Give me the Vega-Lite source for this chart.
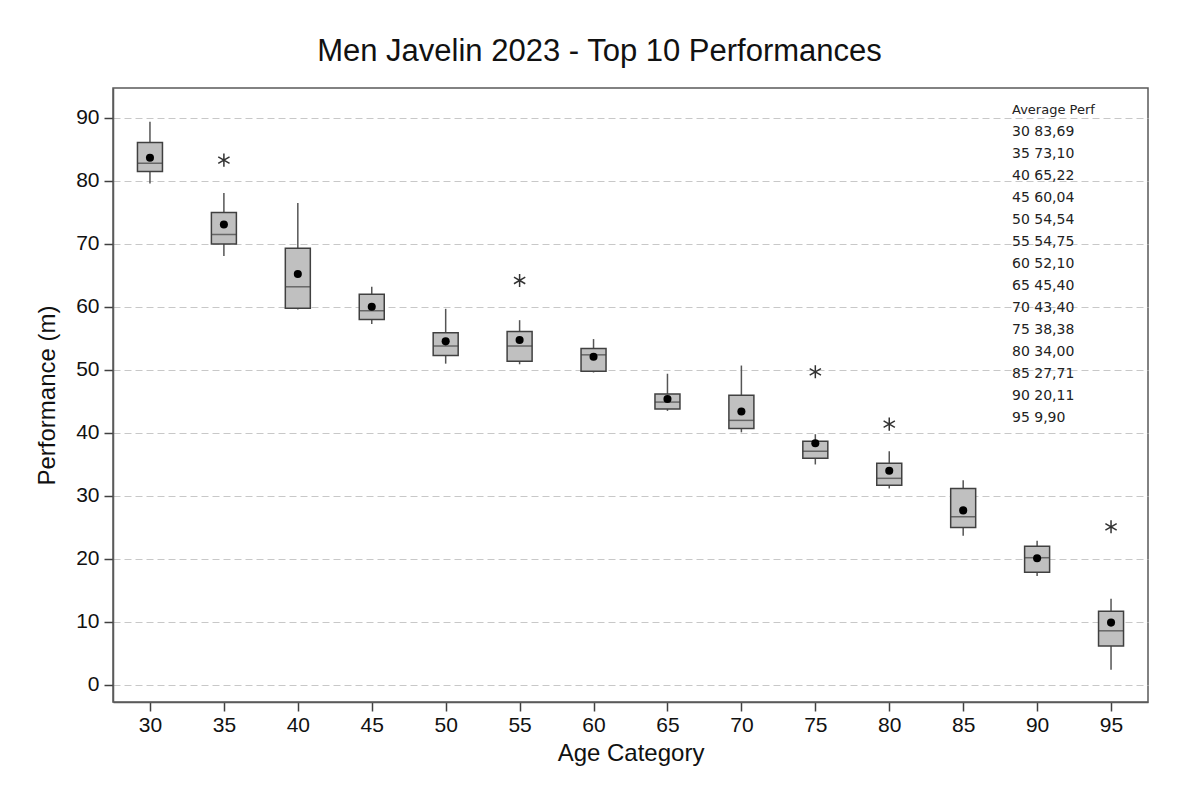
{
  "$schema": "https://vega.github.io/schema/vega-lite/v6.json",
  "width": 1035,
  "height": 614,
  "autosize": {"type": "none"},
  "padding": {"left": 113, "top": 88, "right": 52, "bottom": 95},
  "background": "white",
  "title": {
    "text": "Men Javelin 2023 - Top 10 Performances",
    "font": "Liberation Sans",
    "fontSize": 31,
    "fontWeight": "normal",
    "color": "#111111",
    "anchor": "middle",
    "dx": -31,
    "offset": 20
  },
  "config": {
    "view": {"stroke": "#5a5a5a", "strokeWidth": 1.5},
    "axis": {
      "labelFont": "Liberation Sans",
      "titleFont": "Liberation Sans",
      "labelColor": "#111111",
      "titleColor": "#111111",
      "titleFontWeight": "normal",
      "domainColor": "#5a5a5a",
      "domainWidth": 1.5,
      "tickColor": "#404040",
      "tickWidth": 1.5
    },
    "axisY": {
      "labelFontSize": 21,
      "labelPadding": 5,
      "labelOverlap": false,
      "grid": true,
      "gridColor": "#c8c8c8",
      "gridDash": [7, 4],
      "gridWidth": 1,
      "titleFontSize": 24,
      "titlePadding": 16
    }
  },
  "data": {
    "values": [
      {"age": "30", "lo": 79.6, "q1": 81.5, "med": 82.8, "q3": 86.1, "hi": 89.4, "mean": 83.69, "label": "30 83,69"},
      {"age": "35", "lo": 68.1, "q1": 70.0, "med": 71.5, "q3": 75.0, "hi": 78.1, "mean": 73.10, "label": "35 73,10"},
      {"age": "40", "lo": 59.6, "q1": 59.8, "med": 63.2, "q3": 69.3, "hi": 76.5, "mean": 65.22, "label": "40 65,22"},
      {"age": "45", "lo": 57.3, "q1": 58.0, "med": 59.4, "q3": 62.0, "hi": 63.2, "mean": 60.04, "label": "45 60,04"},
      {"age": "50", "lo": 51.0, "q1": 52.3, "med": 53.8, "q3": 55.9, "hi": 59.7, "mean": 54.54, "label": "50 54,54"},
      {"age": "55", "lo": 50.9, "q1": 51.4, "med": 53.8, "q3": 56.1, "hi": 57.9, "mean": 54.75, "label": "55 54,75"},
      {"age": "60", "lo": 49.6, "q1": 49.8, "med": 52.4, "q3": 53.4, "hi": 54.9, "mean": 52.10, "label": "60 52,10"},
      {"age": "65", "lo": 43.5, "q1": 43.8, "med": 44.9, "q3": 46.2, "hi": 49.4, "mean": 45.40, "label": "65 45,40"},
      {"age": "70", "lo": 40.1, "q1": 40.7, "med": 42.0, "q3": 46.0, "hi": 50.7, "mean": 43.40, "label": "70 43,40"},
      {"age": "75", "lo": 35.0, "q1": 36.0, "med": 37.1, "q3": 38.7, "hi": 39.8, "mean": 38.38, "label": "75 38,38"},
      {"age": "80", "lo": 31.2, "q1": 31.7, "med": 32.8, "q3": 35.2, "hi": 37.1, "mean": 34.00, "label": "80 34,00"},
      {"age": "85", "lo": 23.7, "q1": 25.0, "med": 26.7, "q3": 31.2, "hi": 32.5, "mean": 27.71, "label": "85 27,71"},
      {"age": "90", "lo": 17.3, "q1": 17.9, "med": 20.2, "q3": 22.0, "hi": 22.9, "mean": 20.11, "label": "90 20,11"},
      {"age": "95", "lo": 2.4, "q1": 6.2, "med": 8.6, "q3": 11.7, "hi": 13.7, "mean": 9.90, "label": "95 9,90"}
    ]
  },
  "encoding": {
    "x": {
      "field": "age",
      "type": "ordinal",
      "scale": {"type": "point", "padding": 0.5},
      "title": "Age Category",
      "axis": {
        "labelAngle": 0,
        "labelFontSize": 21,
        "labelPadding": 3,
        "tickSize": 9,
        "titleFontSize": 24,
        "titlePadding": 6,
        "grid": false
      }
    }
  },
  "layer": [
    {
      "mark": {"type": "rule", "color": "#555555", "strokeWidth": 1.5},
      "encoding": {
        "y": {
          "field": "lo",
          "type": "quantitative",
          "scale": {"domain": [-2.7, 94.75], "nice": false, "zero": false},
          "title": "Performance (m)",
          "axis": {
            "values": [0, 5, 10, 15, 20, 25, 30, 35, 40, 45, 50, 55, 60, 65, 70, 75, 80, 85, 90],
            "labelExpr": "datum.value % 10 === 0 ? datum.label : ''",
            "tickSize": {"condition": {"test": "datum.value % 10 === 0", "value": 9}, "value": 6}
          }
        },
        "y2": {"field": "hi"}
      }
    },
    {
      "mark": {"type": "bar", "width": 25, "fill": "#c0c0c0", "stroke": "#404040", "strokeWidth": 1.5},
      "encoding": {
        "y": {"field": "q1", "type": "quantitative", "title": "Performance (m)"},
        "y2": {"field": "q3"}
      }
    },
    {
      "mark": {"type": "tick", "orient": "horizontal", "size": 25, "thickness": 1.5, "color": "#404040"},
      "encoding": {
        "y": {"field": "med", "type": "quantitative", "title": "Performance (m)"}
      }
    },
    {
      "mark": {"type": "point", "filled": true, "size": 65, "opacity": 1},
      "encoding": {
        "y": {"field": "mean", "type": "quantitative", "title": "Performance (m)"},
        "color": {
          "field": "label",
          "type": "nominal",
          "scale": {"range": ["#000000"]},
          "legend": {
            "title": "Average Perf",
            "orient": "none",
            "legendX": 899,
            "legendY": 16,
            "padding": 0,
            "symbolSize": 0,
            "symbolOpacity": 0,
            "symbolStrokeWidth": 0,
            "labelOffset": -14,
            "labelFont": "DejaVu Sans",
            "labelFontSize": 14,
            "labelColor": "#222222",
            "titleFont": "DejaVu Sans",
            "titleFontSize": 13,
            "titleFontWeight": "normal",
            "titleColor": "#222222",
            "rowPadding": 8,
            "titlePadding": 8
          }
        }
      }
    },
    {
      "data": {
        "values": [
          {"age": "35", "value": 83.3},
          {"age": "55", "value": 64.2},
          {"age": "75", "value": 49.7},
          {"age": "80", "value": 41.4},
          {"age": "95", "value": 25.1}
        ]
      },
      "mark": {
        "type": "point",
        "shape": "M0,-1L0,1M-0.866,-0.5L0.866,0.5M-0.866,0.5L0.866,-0.5",
        "filled": false,
        "stroke": "#333333",
        "strokeWidth": 1.5,
        "size": 170,
        "opacity": 1
      },
      "encoding": {
        "y": {"field": "value", "type": "quantitative", "title": "Performance (m)"}
      }
    }
  ]
}
